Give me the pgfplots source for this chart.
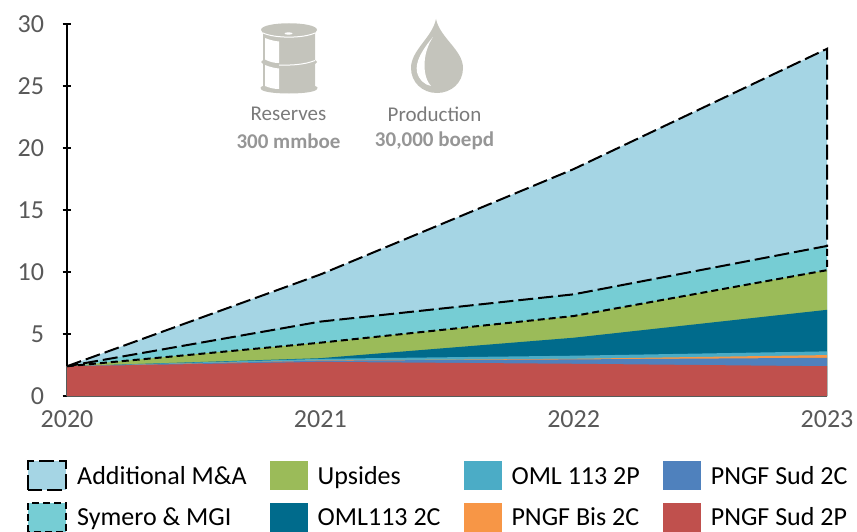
\documentclass[border=0pt]{standalone}
\usepackage{pgfplots}
\pgfplotsset{compat=1.18}
\usepackage{fontspec}
\setmainfont{Carlito}
\definecolor{cma}{HTML}{A5D5E4}
\definecolor{csy}{HTML}{76CDD4}
\definecolor{cup}{HTML}{9BBB59}
\definecolor{c2c}{HTML}{006B8C}
\definecolor{c2p}{HTML}{4BACC6}
\definecolor{cbis}{HTML}{F79646}
\definecolor{csud}{HTML}{4F81BD}
\definecolor{cred}{HTML}{C0504D}
\definecolor{tick}{HTML}{595959}
\definecolor{ico}{HTML}{C4C4BC}
\definecolor{ltxt}{HTML}{7A7A7A}
\definecolor{btxt}{HTML}{969696}
\pgfplotsset{
  swatch/.style={legend image code/.code={\fill[##1] (0pt,-6pt) rectangle (38pt,23pt);}},
  dswatch/.style={legend image code/.code={\fill[##1] (0pt,-6pt) rectangle (38pt,23pt);
     \draw[black,fill=none,line width=2pt,#1] (0pt,-6pt) rectangle (38pt,23pt);}},
}
\tikzset{ldash/.style={dash pattern=on 15pt off 5pt},sdash/.style={dash pattern=on 7pt off 4pt}}
\begin{document}
\begin{tikzpicture}[x=1pt,y=1pt]
\useasboundingbox (-67,-135) rectangle (790,396);
\begin{axis}[
  scale only axis, width=760pt, height=372pt,
  xmin=2020, xmax=2023, ymin=0, ymax=30,
  axis lines=left, axis line style={black,line width=2pt,-},
  xtick={2020,2021,2022,2023}, ytick={0,5,10,15,20,25,30},
  x tick label style={/pgf/number format/1000 sep={},/pgf/number format/assume math mode=true,font=\fontsize{26}{26}\selectfont,text=tick,yshift=-7pt},
  y tick label style={/pgf/number format/assume math mode=true,font=\fontsize{26}{26}\selectfont,text=tick,xshift=-15pt},
  major tick length=9pt, tick style={black,line width=2pt},
  xtick style={draw=none},
  xtick pos=bottom, ytick pos=left, clip=false,
  legend columns=2, transpose legend,
  legend style={at={(-0.0526,-0.1720)},anchor=north west,draw=none,fill=none,inner sep=0pt,
    font=\fontsize{26}{26}\selectfont,text=black,
    /tikz/every even column/.append style={column sep=23pt},
    /tikz/every odd column/.append style={column sep=10pt},
    row sep=10.5pt,
    nodes={inner sep=0pt,outer sep=0pt,anchor=base west}},
  legend cell align=left,
]
\addplot[fill=cma,draw=none,dswatch={ldash}] coordinates {(2020,2.4)(2021,9.8)(2022,18.3)(2023,28)} \closedcycle;
\addlegendentry{Additional M\&A}
\addplot[fill=csy,draw=none,dswatch={sdash}] coordinates {(2020,2.4)(2021,6.0)(2022,8.2)(2023,12.1)} \closedcycle;
\addlegendentry{Symero \& MGI}
\addplot[fill=cup,draw=none,swatch] coordinates {(2020,2.4)(2021,4.3)(2022,6.45)(2023,10.15)} \closedcycle;
\addlegendentry{Upsides}
\addplot[fill=c2c,draw=none,swatch] coordinates {(2020,2.4)(2021,3.05)(2022,4.7)(2023,6.95)} \closedcycle;
\addlegendentry{OML113 2C}
\addplot[fill=c2p,draw=none,swatch] coordinates {(2020,2.4)(2021,3.0)(2022,3.25)(2023,3.6)} \closedcycle;
\addlegendentry{OML 113 2P}
\addplot[fill=cbis,draw=none,swatch] coordinates {(2020,2.4)(2021,2.87)(2022,3.0)(2023,3.3)} \closedcycle;
\addlegendentry{PNGF Bis 2C}
\addplot[fill=csud,draw=none,swatch] coordinates {(2020,2.4)(2021,2.85)(2022,2.95)(2023,3.08)} \closedcycle;
\addlegendentry{PNGF Sud 2C}
\addplot[fill=cred,draw=none,swatch] coordinates {(2020,2.4)(2021,2.75)(2022,2.6)(2023,2.4)} \closedcycle;
\addlegendentry{PNGF Sud 2P}
\addplot[forget plot,black,line width=2pt,ldash] coordinates {(2020,2.4)(2021,9.8)(2022,18.3)(2023,28)(2023,12.1)(2022,8.2)(2021,6.0)(2020,2.4)};
\addplot[forget plot,black,line width=2pt,sdash] coordinates {(2020,2.4)(2021,4.3)(2022,6.45)(2023,10.15)(2023,12.1)};
\end{axis}
\begin{scope}[shift={(-67,396)},y=-1pt]
  % barrel
  \fill[ico] (261,30) .. controls (261,21) and (317,21) .. (317,30)
     -- (315,33) -- (315,60) -- (317,62) -- (315,64) -- (315,86)
     .. controls (318,87) and (318,88) .. (317,89)
     .. controls (315,95) and (263,95) .. (261,89)
     .. controls (260,88) and (260,87) .. (263,86)
     -- (263,64) -- (261,62) -- (263,60) -- (263,33) -- cycle;
  \fill[white] (265,38) .. controls (270,40) and (274,41) .. (279,41.5) -- (279,63) .. controls (274,63) and (270,62) .. (265,59.5) -- cycle;
  \fill[white] (265,65) .. controls (270,67) and (274,68) .. (279,68.5) -- (279,89) .. controls (274,89) and (270,88) .. (265,86) -- cycle;
  \fill[white] (263,32.5) .. controls (275,38) and (303,38) .. (315,32.5) -- (315,33.5) .. controls (303,39) and (275,39) .. (263,33.5) -- cycle;
  \fill[white] (279,64.5) .. controls (292,65) and (305,64) .. (315,60) -- (315,61) .. controls (305,65) and (292,66) .. (279,65.5) -- cycle;
  \fill[white] (288.5,33.5) ellipse (4 and 1.2);
  % drop
  \fill[ico] (436,19) .. controls (440,38) and (463,50) .. (463,68)
     .. controls (463,83) and (451,93) .. (437,93)
     .. controls (422,93) and (411,82) .. (411,68)
     .. controls (411,50) and (432,38) .. (436,19) -- cycle;
  \fill[white] (433,37) .. controls (422,50) and (415,62) .. (417,72)
     .. controls (419,80) and (425,85) .. (431,86)
     .. controls (423,78) and (421,55) .. (433,37) -- cycle;
  \node[font=\fontsize{21}{21}\selectfont,text=ltxt] at (288.5,114) {Reserves};
  \node[font=\fontsize{21}{21}\selectfont\bfseries,text=btxt] at (288.5,141) {300 mmboe};
  \node[font=\fontsize{21}{21}\selectfont,text=ltxt] at (434.5,114) {Production};
  \node[font=\fontsize{21}{21}\selectfont\bfseries,text=btxt] at (434.5,141) {30,000 boepd};
\end{scope}
\end{tikzpicture}
\end{document}
